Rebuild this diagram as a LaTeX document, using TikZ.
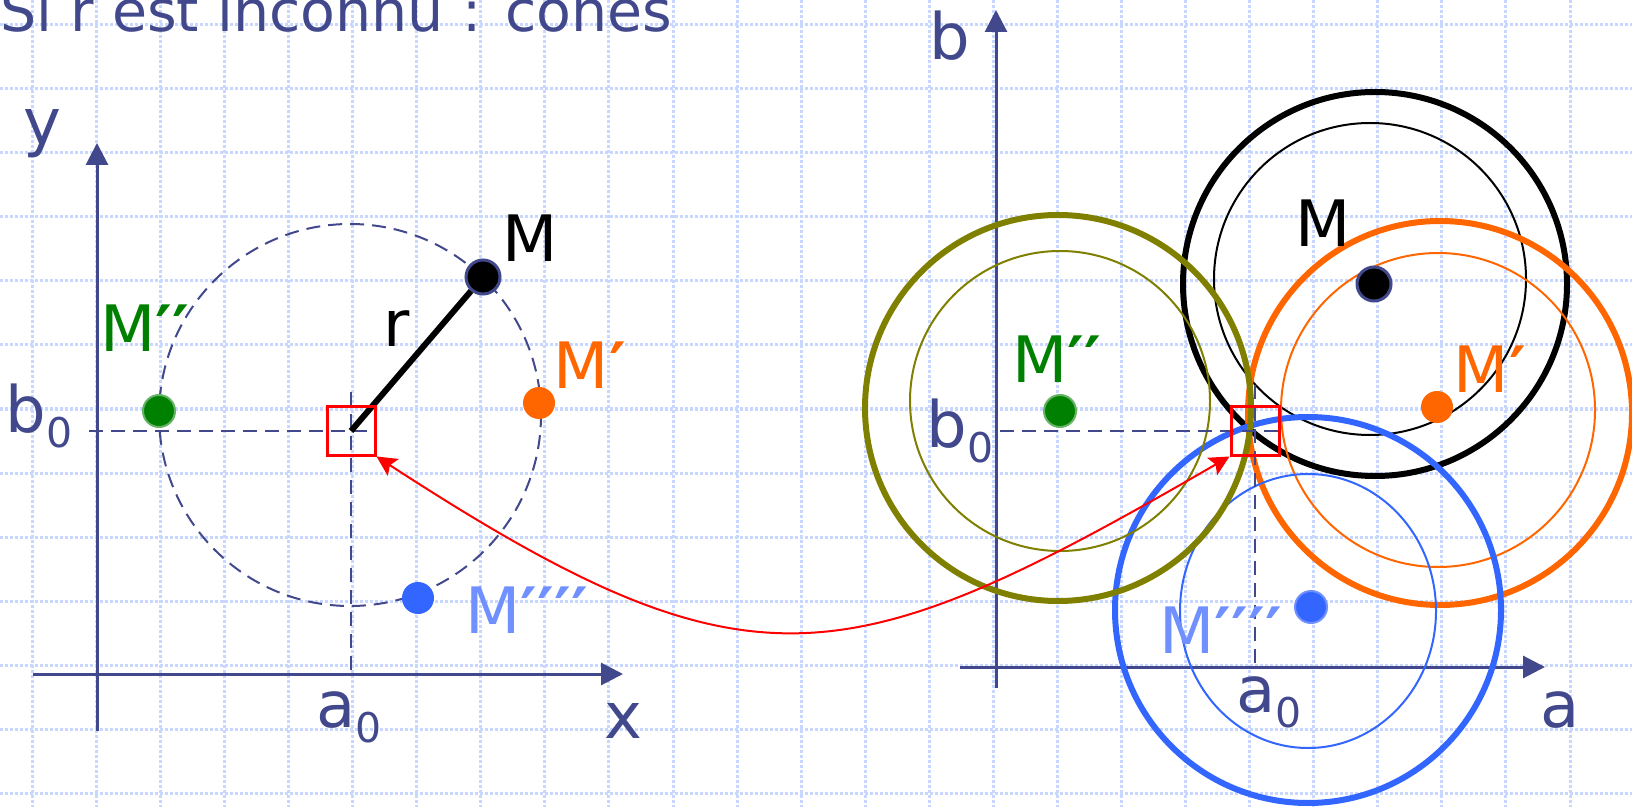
\documentclass[tikz,border=0pt]{standalone}
\usepackage{fontspec}
\setmainfont{DejaVu Sans}
\usepackage{tikz}
\usetikzlibrary{arrows.meta}
\definecolor{navy}{RGB}{65,72,140}
\definecolor{gridblue}{RGB}{200,215,255}
\definecolor{greenM}{RGB}{0,128,0}
\definecolor{orangeM}{RGB}{255,102,0}
\definecolor{blueM}{RGB}{51,102,255}
\definecolor{blueL}{RGB}{112,144,255}
\definecolor{oliveM}{RGB}{128,128,0}
\newcommand\subnum[1]{\raisebox{-7.5pt}{\fontsize{20.5}{20}\selectfont #1}}
\newcommand\pr[1]{{\bfseries #1}}

\begin{document}
\begin{tikzpicture}[x=0.5pt, y=-0.5pt, every node/.style={font=\fontsize{32}{38}\selectfont, inner sep=0pt},
	lbl/.style={anchor=base, text=navy},
	axis/.style={draw=navy, line width=1.5pt, -{Triangle[length=11pt,width=11pt]}},
	guide/.style={draw=navy, line width=1pt, dash pattern=on 7pt off 4pt},
	gridline/.style={draw=gridblue, line width=1.5pt, dash pattern=on 1.5pt off 1pt},
	dot/.style={circle, minimum size=16pt},
	hit/.style={draw=red, line width=1.5pt, minimum size=24pt},
	bigring/.style={line width=3pt},
	smallring/.style={line width=1pt}]
	\useasboundingbox (0,0) rectangle (1632,807);
	\fill[white] (0,0) rectangle (1632,807);
	\foreach \i in {0,...,24}
		\draw[gridline] ({32.3+64.07*\i},0) -- ({32.3+64.07*\i},807);
	\foreach \j in {0,...,12}
		\draw[gridline] (0,{25+64*\j}) -- (1632,{25+64*\j});
	\node[anchor=base west, text=navy, font=\fontsize{28.5}{34}\selectfont] (title) at (0,32) {Si r est inconnu : cones};

	\coordinate (yL0) at (97,731);
	\coordinate (yL1) at (97,143);
	\coordinate (xL0) at (33,674);
	\coordinate (xL1) at (623,674);
	\coordinate (cL) at (351,431);
	\coordinate (bL) at (89,431);
	\coordinate (bLend) at (368,431);
	\coordinate (aL) at (351,674);
	\coordinate (aLtop) at (351,392);
	\draw[axis] (yL0) -- (yL1);
	\draw[axis] (xL0) -- (xL1);
	\draw[guide] (350,415) circle[radius=95.5pt];
	\draw[guide] (bL) -- (bLend);
	\draw[guide] (aLtop) -- (aL);
	\node[dot, fill=black, draw=navy, line width=1.5pt, minimum size=17pt] (mL) at (483,277) {};
	\draw[line width=3pt] (cL) -- (mL);
	\node[dot, fill=greenM, draw=greenM!60!white, line width=1pt] (m2L) at (159,411) {};
	\node[dot, fill=orangeM] (m1L) at (539,403) {};
	\node[dot, fill=blueM] (m4L) at (418,598) {};
	\node[hit] (sqL) at (cL) {};
	\node[lbl] (yLab) at (42,145) {y};
	\node[lbl] (xLab) at (623,738) {x};
	\node[lbl] (aL0) at (349,727) {a\subnum{0}};
	\node[lbl] (bL0) at (39,432) {b\subnum{0}};
	\node[anchor=base] (mLabL) at (530,262) {M};
	\node[anchor=base] (rLab) at (397,347) {r};
	\node[anchor=base, text=greenM] (m2LabL) at (145,352) {M\pr{′′}};
	\node[anchor=base, text=orangeM] (m1LabL) at (590,388) {M\pr{′}};
	\node[anchor=base, text=blueL] (m4LabL) at (527,633) {M\pr{′′′′}};

	\coordinate (yR0) at (996,688);
	\coordinate (yR1) at (996,10);
	\coordinate (xR0) at (960,667);
	\coordinate (xR1) at (1545,667);
	\coordinate (cR) at (1255,431);
	\coordinate (bR) at (1000,431);
	\coordinate (bRend) at (1280,431);
	\coordinate (aR) at (1255,667);
	\coordinate (aRtop) at (1255,385);
	\draw[axis] (yR0) -- (yR1);
	\draw[axis] (xR0) -- (xR1);
	\draw[bigring, black] (1375,284) circle[radius=96pt];
	\draw[smallring, black] (1370,279) circle[radius=78pt];
	\draw[bigring, orangeM] (1440,413) circle[radius=96pt];
	\draw[smallring, orangeM] (1438,410) circle[radius=78.5pt];
	\draw[bigring, blueM] (1308,610) circle[radius=96.5pt];
	\draw[smallring, blueM] (1308,611) ellipse[x radius=64pt, y radius=68.5pt];
	\draw[bigring, oliveM] (1058,408) circle[radius=96.5pt];
	\draw[smallring, oliveM] (1060,401) circle[radius=75pt];
	\draw[guide] (bR) -- (bRend);
	\draw[guide] (aRtop) -- (aR);
	\node[dot, fill=black, draw=navy, line width=1.5pt, minimum size=17pt] (mR) at (1374,284) {};
	\node[dot, fill=greenM, draw=greenM!60!white, line width=1pt] (m2R) at (1060,411) {};
	\node[dot, fill=orangeM] (m1R) at (1437,407) {};
	\node[dot, fill=blueM, draw=blueL, line width=1pt] (m4R) at (1311,607) {};
	\node[hit] (sqR) at (cR) {};
	\node[lbl] (bLab) at (950,60) {b};
	\node[lbl] (bR0) at (960,447) {b\subnum{0}};
	\node[lbl] (aR0) at (1269,712) {a\subnum{0}};
	\node[lbl] (aLab) at (1560,727) {a};
	\node[anchor=base] (mLabR) at (1323,247) {M};
	\node[anchor=base, text=greenM] (m2LabR) at (1057,383) {M\pr{′′}};
	\node[anchor=base, text=orangeM] (m1LabR) at (1490,393) {M\pr{′}};
	\node[anchor=base, text=blueL] (m4LabR) at (1221,653) {M\pr{′′′′}};

	\draw[red, line width=1pt, {Stealth[length=10pt,width=10pt,inset=2pt]}-{Stealth[length=10pt,width=10pt,inset=2pt]}] (sqL.south east) .. controls +(374,243) and +(-386,223) .. (sqR.south west);
\end{tikzpicture}
\end{document}
